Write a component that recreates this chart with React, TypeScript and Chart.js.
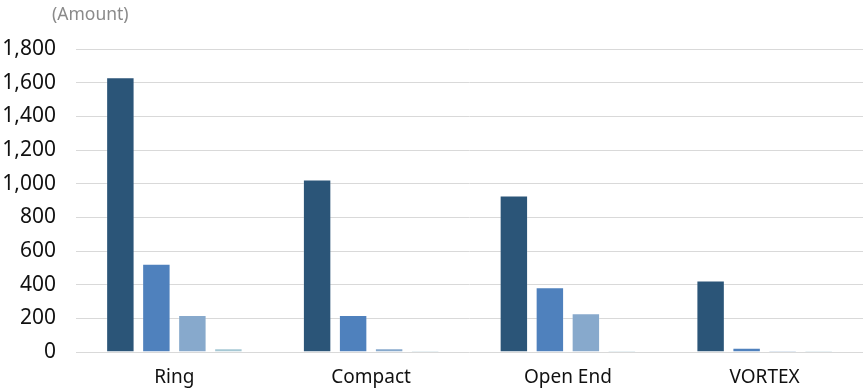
import React, { useEffect, useRef } from "react";
import { Chart, registerables } from "chart.js";

Chart.register(...registerables);

const categories = ["Ring", "Compact", "Open End", "VORTEX"];
const series1 = [1632, 1025, 930, 425];
const series2 = [525, 220, 385, 25];
const series3 = [220, 22, 230, 10];
const series4 = [22, 10, 10, 8];
const seriesColors = ["#2B5578", "#4F81BD", "#87A9CC", "#A6C8D4"];
const yMin = 0;
const yMax = 1800;
const yStep = 200;
const unitLabel = "(Amount)";

const FONT = "'Noto Sans', 'Open Sans', sans-serif";

const unitPlugin = {
  id: "unitLabel",
  afterDraw(chart: any) {
    const ctx = chart.ctx;
    ctx.save();
    ctx.font = `17.5px ${FONT}`;
    ctx.fillStyle = "#8a8a8a";
    ctx.textAlign = "left";
    ctx.textBaseline = "middle";
    ctx.fillText(unitLabel, 52, 15);
    ctx.restore();
  },
};

export default function App() {
  const ref = useRef<HTMLCanvasElement | null>(null);
  useEffect(() => {
    if (!ref.current) return;
    const data = [series1, series2, series3, series4];
    const chart = new Chart(ref.current, {
      type: "bar",
      data: {
        labels: categories,
        datasets: data.map((d, i) => ({
          label: `S${i + 1}`,
          data: d,
          backgroundColor: seriesColors[i],
          borderColor: "rgba(255,255,255,0.2)",
          borderWidth: 1,
          categoryPercentage: 0.732,
          barPercentage: 0.79,
        })),
      },
      options: {
        animation: false,
        responsive: false,
        layout: { padding: { top: 49, right: 0, left: 0, bottom: 0 } },
        plugins: {
          legend: { display: false },
          tooltip: { enabled: false },
          title: { display: false },
        },
        scales: {
          x: {
            grid: { display: false, drawTicks: false },
            border: { display: false },
            ticks: {
              font: { family: FONT, size: 19 },
              color: "#111",
              padding: 14,
            },
            afterFit(scale: any) {
              scale.height = 37;
            },
          },
          y: {
            min: yMin,
            max: yMax,
            grid: { color: "#d9d9d9", lineWidth: 1, drawTicks: false },
            border: { display: false },
            ticks: {
              stepSize: yStep,
              font: { family: FONT, size: 21 },
              color: "#111",
              padding: 20,
              callback: (v: any) => Number(v).toLocaleString("en-US"),
            },
            afterFit(scale: any) {
              scale.width = 76;
            },
          },
        },
      },
      plugins: [unitPlugin],
    });
    return () => chart.destroy();
  }, []);
  return (
    <div style={{ position: "fixed", left: 0, top: 0, width: 863, height: 389, background: "#fff" }}>
      <canvas ref={ref} width={863} height={389} style={{ width: 863, height: 389 }} />
    </div>
  );
}
